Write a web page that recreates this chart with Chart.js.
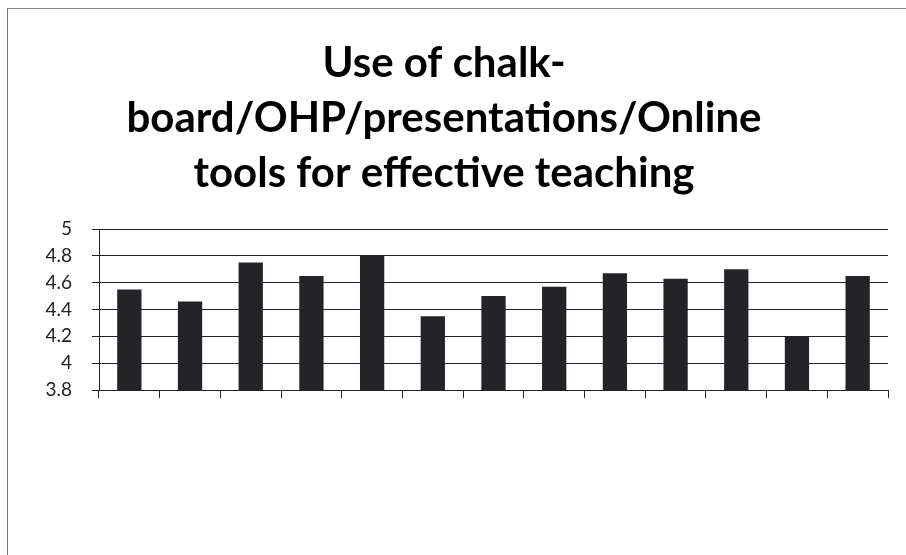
<!DOCTYPE html>
<html>
<head>
<meta charset="utf-8">
<script src="https://cdn.jsdelivr.net/npm/chart.js@4"></script>
<style>
  html, body { margin: 0; padding: 0; background: #fff; }
  #wrap { position: absolute; left: 0; top: 0; width: 906px; height: 555px; }
  #frame { position: absolute; left: 7px; top: 8px; width: 906px; height: 560px; border-left: 1px solid #777; border-top: 1px solid #888; pointer-events: none; }
</style>
</head>
<body>
<div id="wrap"><canvas id="c" width="906" height="555"></canvas></div>
<div id="frame"></div>
<script>
const titleLines = ["Use of chalk-", "board/OHP/presentations/Online", "tools for effective teaching"];
const categories = ["1", "2", "3", "4", "5", "6", "7", "8", "9", "10", "11", "12", "13"];
const scores = [4.55, 4.46, 4.75, 4.65, 4.80, 4.35, 4.50, 4.57, 4.67, 4.63, 4.70, 4.20, 4.65];
const yMin = 3.8, yMax = 5, yStep = 0.2;

new Chart(document.getElementById('c'), {
  type: 'bar',
  data: {
    labels: categories,
    datasets: [{
      data: scores,
      backgroundColor: '#232328',
      borderWidth: 0,
      barPercentage: 0.4,
      categoryPercentage: 1.0
    }]
  },
  options: {
    responsive: false,
    animation: false,
    layout: { padding: { left: 0, right: 18, top: 0, bottom: 0 } },
    plugins: {
      legend: { display: false },
      tooltip: { enabled: false },
      title: {
        display: true,
        text: titleLines,
        color: '#000',
        font: { family: 'Lato', size: 42, weight: 'bold', lineHeight: 1.31 },
        padding: { top: 36, bottom: 28 }
      }
    },
    scales: {
      x: {
        afterFit: s => { s.height = 165; },
        ticks: { display: false },
        grid: { display: true, drawOnChartArea: false, drawTicks: true, tickLength: 8, color: '#222', offset: true },
        border: { display: true, color: '#222' }
      },
      y: {
        min: yMin, max: yMax,
        afterFit: s => { s.width = 99; },
        ticks: {
          stepSize: yStep,
          autoSkip: false,
          padding: 20,
          color: '#222',
          font: { family: 'Lato', size: 19 },
          callback: v => String(Number(v.toFixed(1)))
        },
        grid: { color: '#222', lineWidth: 1, tickLength: 7 },
        border: { display: true, color: '#222' }
      }
    }
  }
});
</script>
</body>
</html>
